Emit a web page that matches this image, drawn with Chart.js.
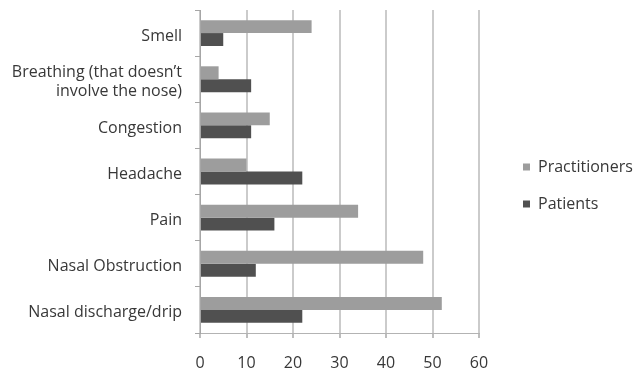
<!DOCTYPE html>
<html>
<head>
<meta charset="utf-8">
<script src="https://cdn.jsdelivr.net/npm/chart.js@4"></script>
<style>
  html, body { margin: 0; padding: 0; background: #fff; }
  #wrap { width: 634px; height: 371px; }
</style>
</head>
<body>
<div id="wrap"><canvas id="c" width="634" height="371"></canvas></div>
<script>
// Symptom categories, top to bottom
const categories = [
  'Smell',
  ['Breathing (that doesn\u2019t', 'involve the nose)'],
  'Congestion',
  'Headache',
  'Pain',
  'Nasal Obstruction',
  'Nasal discharge/drip'
];
const seriesNames = ['Practitioners', 'Patients'];
const practitioners = [24, 4, 15, 10, 34, 48, 52];
const patients = [5, 11, 11, 22, 16, 12, 22];
const xTickValues = [0, 10, 20, 30, 40, 50, 60];

const FONT = { family: "'Open Sans', sans-serif", size: 16 };
const TEXT = '#383838';
const LEGEND_WIDTH = 155;

// Keeps the right-hand legend at a fixed width and nudges its items inward
const legendPlacement = {
  id: 'legendPlacement',
  beforeLayout(chart) {
    const lg = chart.legend;
    if (lg && !lg._fixedFit) {
      const fit = lg.fit.bind(lg);
      lg.fit = function () { fit(); this.width = LEGEND_WIDTH; };
      lg._fixedFit = true;
    }
  },
  afterLayout(chart) {
    const lg = chart.legend;
    if (!lg) return;
    lg.left += 23; lg.right += 23;
    lg.top -= 5; lg.bottom -= 5;
  }
};

new Chart(document.getElementById('c'), {
  type: 'bar',
  data: {
    labels: categories,
    datasets: [
      { label: seriesNames[0], data: practitioners, backgroundColor: '#9d9d9d', borderWidth: 0 },
      { label: seriesNames[1], data: patients, backgroundColor: '#505050', borderWidth: 0 }
    ]
  },
  options: {
    indexAxis: 'y',
    responsive: false,
    animation: false,
    datasets: { bar: { categoryPercentage: 0.56, barPercentage: 1.0 } },
    layout: { padding: { top: 10, bottom: 0, left: 0, right: 0 } },
    scales: {
      x: {
        min: 0, max: 60,
        afterBuildTicks: s => { s.ticks = xTickValues.map(v => ({ value: v })); },
        afterFit: s => { s.height = 38; s.paddingLeft = 0; s.paddingRight = 0; },
        ticks: { font: FONT, color: TEXT, padding: 16 },
        grid: { color: '#cbcbcb', lineWidth: 2, tickLength: 5, tickColor: '#bdbdbd' },
        border: { display: true, color: '#b3b3b3', width: 1 }
      },
      y: {
        afterFit: s => { s.width = 200; s.paddingTop = 0; s.paddingBottom = 0; },
        ticks: { font: FONT, color: TEXT, padding: 13, labelOffset: 3 },
        grid: { offset: true, drawOnChartArea: false, drawTicks: true, tickLength: 5, color: '#a6a6a6' },
        border: { display: true, color: '#a6a6a6', width: 1 }
      }
    },
    plugins: {
      legend: {
        position: 'right',
        labels: { font: FONT, color: TEXT, boxWidth: 7, boxHeight: 7, padding: 21 }
      },
      tooltip: { enabled: false }
    }
  },
  plugins: [legendPlacement]
});
</script>
</body>
</html>
